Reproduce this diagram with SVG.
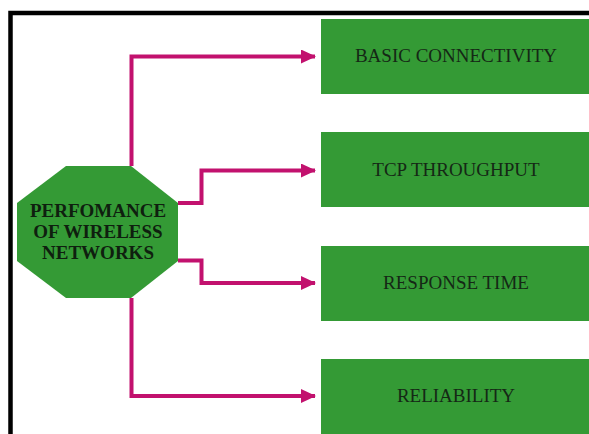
<svg xmlns="http://www.w3.org/2000/svg" width="589" height="434" viewBox="0 0 589 434">
<defs>
<style>
.box{fill:#349a35;}
.lbl{font-family:"Liberation Serif","Times New Roman",serif;font-size:19px;fill:#152815;text-anchor:middle;}
.hub{font-family:"Liberation Serif","Times New Roman",serif;font-size:19px;font-weight:bold;fill:#0f1f0f;text-anchor:middle;}
.con{fill:none;stroke:#c2116e;stroke-width:4;stroke-linejoin:miter;}
</style>
<marker id="ah" markerUnits="userSpaceOnUse" markerWidth="16" markerHeight="16" refX="14" refY="7" orient="auto">
<path d="M0,0 L15,7 L0,14 Z" fill="#c2116e"/>
</marker>
</defs>
<rect x="0" y="0" width="589" height="434" fill="#ffffff"/>
<path d="M10.5,440 L10.5,13 L600,13" fill="none" stroke="#000000" stroke-width="4.5"/>
<g id="connectors">
<path class="con" d="M131.5,166 L131.5,56.5 L315,56.5" marker-end="url(#ah)"/>
<path class="con" d="M178,203 L201.5,203 L201.5,170.5 L315,170.5" marker-end="url(#ah)"/>
<path class="con" d="M178,260.5 L201.5,260.5 L201.5,283 L315,283" marker-end="url(#ah)"/>
<path class="con" d="M131.5,298 L131.5,396 L315,396" marker-end="url(#ah)"/>
</g>
<g id="hub">
<polygon points="66,166 131,166 178,203 178,261 131,298 66,298 17,261 17,203" fill="#349a35"/>
<text class="hub" x="98" y="217">PERFOMANCE</text>
<text class="hub" x="98" y="238">OF WIRELESS</text>
<text class="hub" x="98" y="259">NETWORKS</text>
</g>
<g id="n1">
<rect class="box" x="321" y="19" width="280" height="75"/>
<text class="lbl" x="456" y="62">BASIC CONNECTIVITY</text>
</g>
<g id="n2">
<rect class="box" x="321" y="132" width="280" height="75"/>
<text class="lbl" x="456" y="176">TCP THROUGHPUT</text>
</g>
<g id="n3">
<rect class="box" x="321" y="246" width="280" height="75"/>
<text class="lbl" x="456" y="289">RESPONSE TIME</text>
</g>
<g id="n4">
<rect class="box" x="321" y="359" width="280" height="80"/>
<text class="lbl" x="456" y="402">RELIABILITY</text>
</g>
</svg>
